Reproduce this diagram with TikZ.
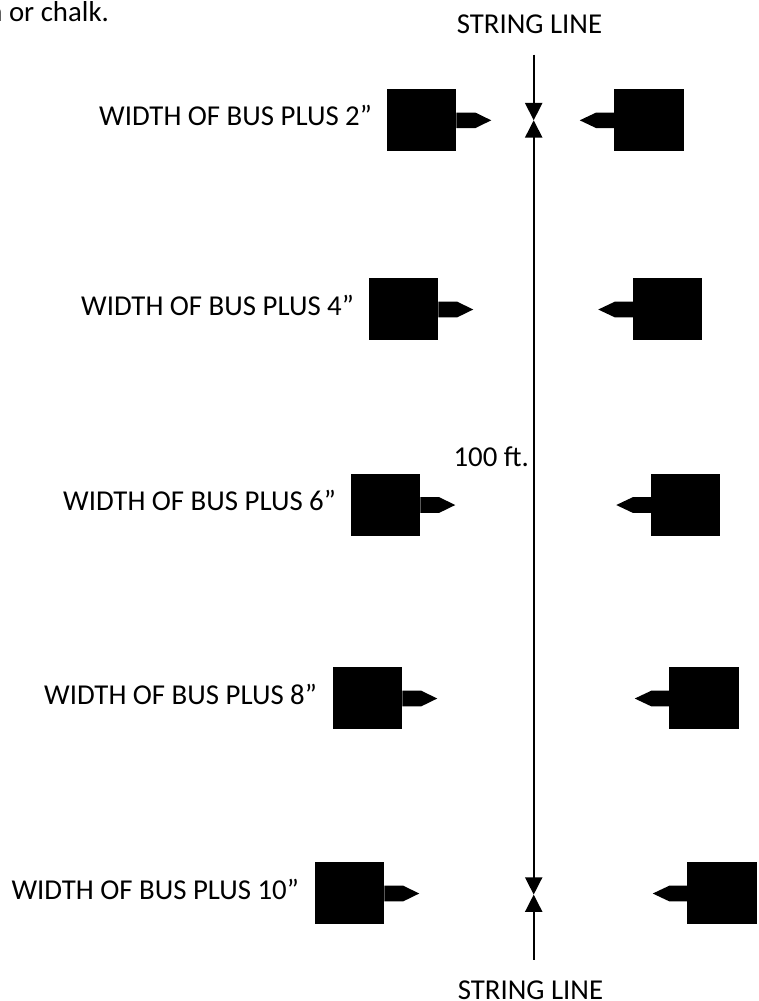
\documentclass[tikz,border=0pt]{standalone}
\usepackage{fontspec}
\setmainfont{Carlito}
\usetikzlibrary{arrows.meta}
\tikzset{
  block/.style={fill=black,inner sep=0pt,outer sep=0pt,minimum width=69.5bp,minimum height=62bp},
  nub/.style={fill=black,draw=none},
  label/.style={inner sep=0pt,font=\fontsize{28.8bp}{32bp}\selectfont},
}
\begin{document}
\begin{tikzpicture}[>={Triangle[length=17.3bp,width=17bp]},x=1bp,y=1bp]
  \useasboundingbox (0,0) rectangle (759,1001);
  \pgfsetlinewidth{2.2bp}
%%
  % Node: clipped line of text
  \node[label,anchor=base east] (note) at (110,979) {n or chalk.};
  % Node: Top and bottom labels
  \node[label,anchor=base] (stringlabelTop) at (529.5,967) {STRING LINE};
  \node[label,anchor=base] (stringlabelBot) at (530.5,1.5) {STRING LINE};
  \node[label,anchor=base east] (distance) at (530,534) {100 ft.};
  % Node: Row labels
  \node[label,anchor=base east] (labelA) at (373,875) {WIDTH OF BUS PLUS 2”};
  \node[label,anchor=base east] (labelB) at (355,685) {WIDTH OF BUS PLUS 4”};
  \node[label,anchor=base east] (labelC) at (337,490) {WIDTH OF BUS PLUS 6”};
  \node[label,anchor=base east] (labelD) at (318,296) {WIDTH OF BUS PLUS 8”};
  \node[label,anchor=base east] (labelE) at (300,101) {WIDTH OF BUS PLUS 10”};
  % Node: Blocks, left side
  \node[block] (leftA) at (421.5,880.7) {};
  \node[block] (leftB) at (403.5,691.5) {};
  \node[block] (leftC) at (385.5,496) {};
  \node[block] (leftD) at (367.5,302.5) {};
  \node[block] (leftE) at (349.5,107.5) {};
  % Node: Blocks, right side
  \node[block] (rightA) at (649,880.7) {};
  \node[block] (rightB) at (667.5,691.5) {};
  \node[block] (rightC) at (685.5,496) {};
  \node[block] (rightD) at (704,302.5) {};
  \node[block] (rightE) at (722,107.5) {};
  % Edge: nubs, left side
  \fill[nub] ([yshift=7.8]leftA.east) -- ++(19,0) -- ++(16,-7.8) -- ++(-16,-7.8) -- ++(-19,0) -- cycle;
  \fill[nub] ([yshift=7.8]leftB.east) -- ++(19,0) -- ++(16,-7.8) -- ++(-16,-7.8) -- ++(-19,0) -- cycle;
  \fill[nub] ([yshift=7.8]leftC.east) -- ++(19,0) -- ++(16,-7.8) -- ++(-16,-7.8) -- ++(-19,0) -- cycle;
  \fill[nub] ([yshift=7.8]leftD.east) -- ++(19,0) -- ++(16,-7.8) -- ++(-16,-7.8) -- ++(-19,0) -- cycle;
  \fill[nub] ([yshift=7.8]leftE.east) -- ++(19,0) -- ++(16,-7.8) -- ++(-16,-7.8) -- ++(-19,0) -- cycle;
  % Edge: nubs, right side
  \fill[nub] ([yshift=7.8]rightA.west) -- ++(-18,0) -- ++(-16.5,-7.8) -- ++(16.5,-7.8) -- ++(18,0) -- cycle;
  \fill[nub] ([yshift=7.8]rightB.west) -- ++(-18,0) -- ++(-16.5,-7.8) -- ++(16.5,-7.8) -- ++(18,0) -- cycle;
  \fill[nub] ([yshift=7.8]rightC.west) -- ++(-18,0) -- ++(-16.5,-7.8) -- ++(16.5,-7.8) -- ++(18,0) -- cycle;
  \fill[nub] ([yshift=7.8]rightD.west) -- ++(-18,0) -- ++(-16.5,-7.8) -- ++(16.5,-7.8) -- ++(18,0) -- cycle;
  \fill[nub] ([yshift=7.8]rightE.west) -- ++(-18,0) -- ++(-16.5,-7.8) -- ++(16.5,-7.8) -- ++(18,0) -- cycle;
  % Edge: string line
  \coordinate (stringTop) at (533.7,946.3);
  \coordinate (tipTop) at (533.7,880.7);
  \coordinate (tipBot) at (533.7,106.4);
  \coordinate (stringBot) at (533.7,41);
  \draw [->] (stringTop) -- (tipTop);
  \draw [<->] (tipTop) -- (tipBot);
  \draw [->] (stringBot) -- (tipBot);
%
\end{tikzpicture}
\end{document}
